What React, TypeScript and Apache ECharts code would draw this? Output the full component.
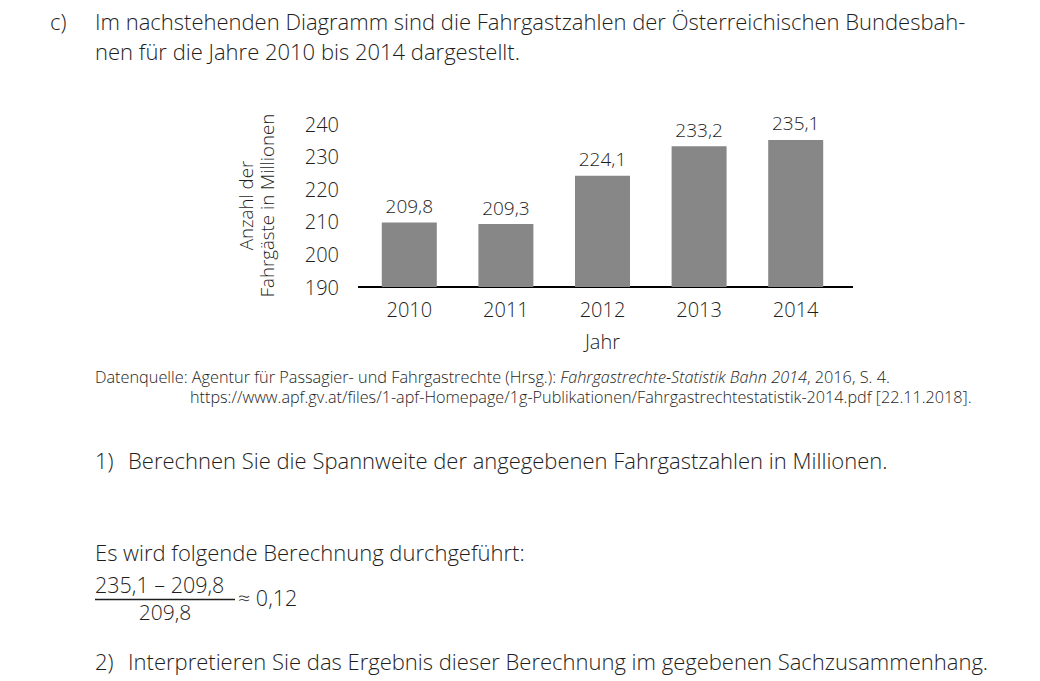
import React, { useEffect, useRef } from "react";
import * as echarts from "echarts";

const years = ["2010", "2011", "2012", "2013", "2014"];
const passengers = [209.8, 209.3, 224.1, 233.2, 235.1];
const yMin = 190;
const yMax = 240;
const yStep = 10;

const FONT = "'Open Sans', 'Liberation Sans', Arial, sans-serif";
const INK = "#1e1e1e";
const W = 300;
const BODY = 22;

export default function App() {
  const ref = useRef<HTMLDivElement>(null);
  useEffect(() => {
    if (!ref.current) return;
    const chart = echarts.init(ref.current, undefined, { renderer: "svg" });
    const bodyText = (x: number, y: number, text: string, size = BODY, extra: any = {}) => ({
      type: "text",
      x,
      y,
      style: { text, fill: INK, font: `${W} ${size}px ${FONT}`, textVerticalAlign: "middle", ...extra },
    });
    chart.setOption({
      animation: false,
      backgroundColor: "#ffffff",
      textStyle: { fontFamily: FONT, fontWeight: W },
      grid: { left: 361, width: 483, top: 124, height: 163, containLabel: false },
      xAxis: {
        type: "category",
        data: years,
        axisLine: { show: false },
        axisTick: { show: false },
        axisLabel: { color: INK, fontSize: 20, fontWeight: W, margin: 12 },
        name: "Jahr",
        nameLocation: "middle",
        nameGap: 44,
        nameTextStyle: { color: INK, fontSize: 20, fontWeight: W },
      },
      yAxis: {
        type: "value",
        min: yMin,
        max: yMax,
        interval: yStep,
        splitLine: { show: false },
        axisLine: { show: false },
        axisTick: { show: false },
        axisLabel: { color: INK, fontSize: 20, fontWeight: W, margin: 22 },
        name: "Anzahl der\nFahrgäste in Millionen",
        nameLocation: "middle",
        nameGap: 84,
        nameRotate: 90,
        nameTextStyle: { color: INK, fontSize: 18.7, fontWeight: W, lineHeight: 21 },
      },
      series: [
        {
          type: "bar",
          data: passengers,
          barWidth: 55,
          itemStyle: { color: "#878787" },
          label: {
            show: true,
            position: "top",
            distance: 7,
            color: INK,
            fontSize: 19,
            fontWeight: W,
            formatter: (p: any) => String(p.value).replace(".", ","),
          },
        },
      ],
      graphic: [
        { type: "line", shape: { x1: 358, y1: 287, x2: 853, y2: 287 }, style: { stroke: "#000", lineWidth: 2 } },
        bodyText(50, 21, "c)"),
        bodyText(95, 21, "Im nachstehenden Diagramm sind die Fahrgastzahlen der Österreichischen Bundesbah-"),
        bodyText(95, 51, "nen für die Jahre 2010 bis 2014 dargestellt."),
        {
          type: "text",
          x: 95,
          y: 377,
          style: {
            text: "Datenquelle: Agentur für Passagier- und Fahrgastrechte (Hrsg.): {i|Fahrgastrechte-Statistik Bahn 2014}, 2016, S. 4.",
            fill: INK,
            font: `${W} 16.3px ${FONT}`,
            textVerticalAlign: "middle",
            rich: { i: { fontStyle: "italic", fontSize: 16.3, fontWeight: W, fontFamily: FONT, fill: INK, color: INK } },
          },
        },
        bodyText(190, 397, "https://www.apf.gv.at/files/1-apf-Homepage/1g-Publikationen/Fahrgastrechtestatistik-2014.pdf [22.11.2018].", 16.2),
        bodyText(95, 460, "1)"),
        bodyText(128, 460, "Berechnen Sie die Spannweite der angegebenen Fahrgastzahlen in Millionen."),
        bodyText(95, 552, "Es wird folgende Berechnung durchgeführt:"),
        bodyText(95, 584, "235,1 – 209,8", 21.5),
        { type: "line", shape: { x1: 95, y1: 599.5, x2: 235, y2: 599.5 }, style: { stroke: INK, lineWidth: 1.5 } },
        bodyText(165, 612, "209,8", 21, { textAlign: "center" }),
        bodyText(238, 597, "≈ 0,12", 21.5),
        bodyText(95, 661, "2)"),
        bodyText(128, 661, "Interpretieren Sie das Ergebnis dieser Berechnung im gegebenen Sachzusammenhang."),
      ],
    });
    return () => chart.dispose();
  }, []);
  return (
    <div
      ref={ref}
      style={{ position: "absolute", left: 0, top: 0, width: 1040, height: 681, background: "#fff" }}
    />
  );
}
